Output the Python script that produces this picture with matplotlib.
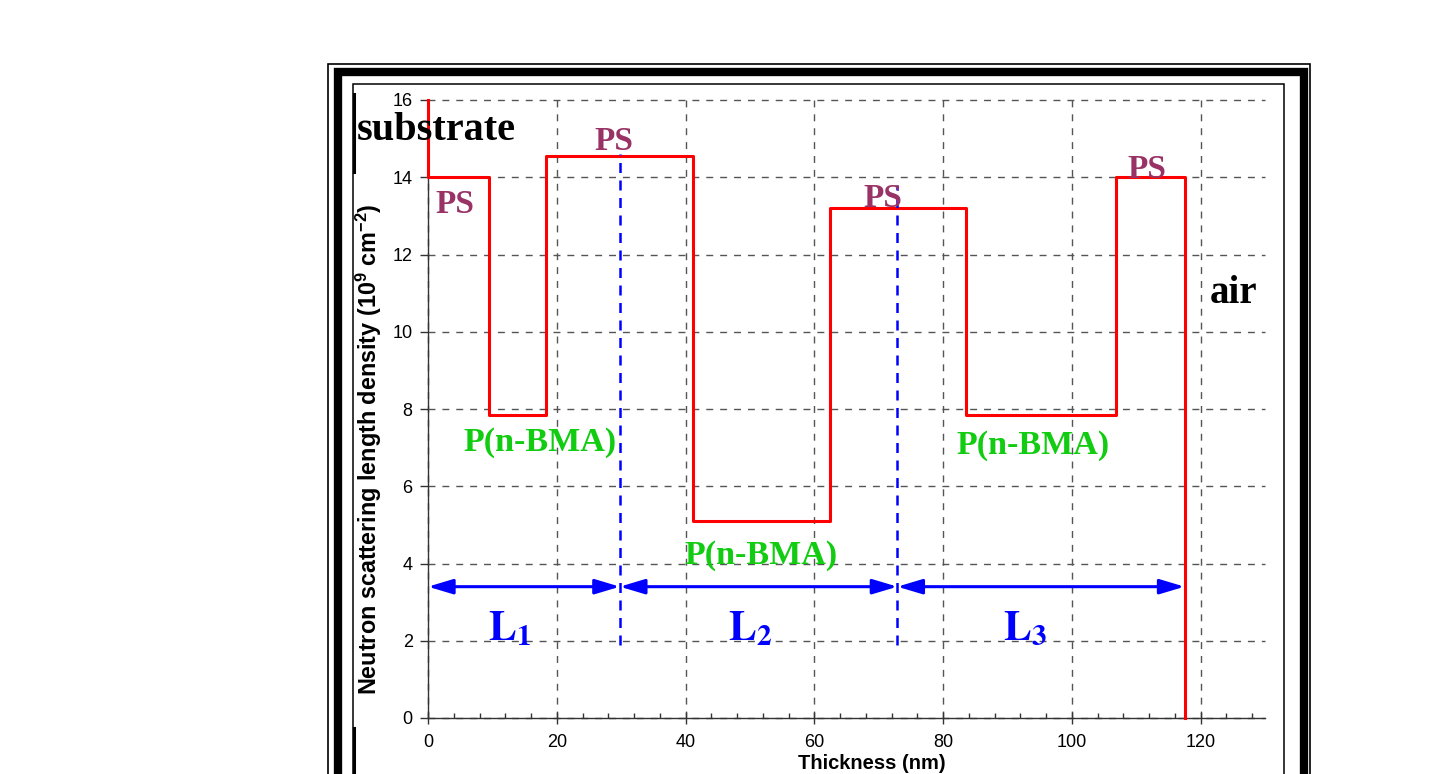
import matplotlib.pyplot as plt
import numpy as np
from matplotlib.patches import Rectangle
from matplotlib.lines import Line2D
from matplotlib.ticker import MultipleLocator

# SLD profile: layer boundaries (nm) and the SLD of each layer (1e9 cm^-2)
layer_edges = [0, 9.5, 18.3, 41.2, 62.5, 83.6, 106.8, 117.5]
layer_sld = [14.0, 7.85, 14.55, 5.1, 13.2, 7.85, 14.0]
substrate_sld = 16.0
air_sld = 0.0

# period markers
period_edges = [0, 29.8, 72.9, 117.5]
period_names = ["1", "2", "3"]
arrow_y = 3.4
divider_top = [14.6, 13.8]
divider_bottom = 1.9

# annotations (x, baseline y)
ps_pos = [(4.2, 13.08), (28.9, 14.7), (70.7, 13.24), (111.7, 13.98)]
bma_pos = [(17.4, 6.92), (51.7, 3.99), (93.9, 6.84)]
L_pos = [(12.7, 2.02), (50.0, 2.02), (92.8, 2.02)]

W, H = 1432, 774
plt.rcParams["font.family"] = ["Liberation Sans", "DejaVu Sans"]
plt.rcParams["mathtext.fontset"] = "custom"
plt.rcParams["mathtext.rm"] = "Liberation Sans"
plt.rcParams["mathtext.bf"] = "Liberation Sans:bold"

fig = plt.figure(figsize=(W / 100, H / 100), dpi=100)
ax = fig.add_axes([428 / W, 1 - 718 / H, (1265 - 428) / W, (718 - 100) / H])

# frame around the figure (thin / thick / thin)
def px_rect(left, right, top, lw):
    r = Rectangle((left / W, -0.2), (right - left) / W, 1.2 - top / H,
                  transform=fig.transFigure, fill=False, ec="black", lw=lw)
    fig.add_artist(r)

px_rect(328, 1310, 64, 1.2)
px_rect(338, 1303.5, 72, 6.0)
px_rect(352.5, 1284, 84, 1.1)
for y0, y1 in [(94, 172), (728, 790)]:
    fig.add_artist(Line2D([353.5 / W, 353.5 / W], [1 - y0 / H, 1 - y1 / H],
                          transform=fig.transFigure, color="black", lw=2.2))

ax.set_xlim(0, 130)
ax.set_ylim(0, 16)
ax.set_xticks(np.arange(0, 121, 20))
ax.set_yticks(np.arange(0, 17, 2))
ax.xaxis.set_minor_locator(MultipleLocator(4))
ax.grid(True, color="#555555", lw=1.0, linestyle=(0, (5, 5)))
ax.set_axisbelow(True)
for g in ax.get_xgridlines() + ax.get_ygridlines():
    g.set_clip_on(False)
for s in ["top", "right"]:
    ax.spines[s].set_visible(False)
for s in ["left", "bottom"]:
    ax.spines[s].set_color("#333333")
    ax.spines[s].set_linewidth(1.0)
ax.tick_params(axis="y", which="major", direction="out", length=6, width=1,
               color="#333333", labelsize=13, pad=5)
ax.tick_params(axis="x", which="major", direction="inout", length=9, width=1,
               color="#333333", labelsize=13, pad=7)
ax.tick_params(axis="x", which="minor", direction="in", length=3.5, width=1,
               color="#333333")

# SLD step profile
xs = np.repeat(layer_edges, 2)
ys = np.concatenate([[substrate_sld], np.repeat(layer_sld, 2), [air_sld]])
ax.plot(xs, ys, color="#ff0000", lw=2.2, clip_on=False, zorder=4)

# period dividers and arrows
for xd, top in zip(period_edges[1:-1], divider_top):
    ax.plot([xd, xd], [divider_bottom, top], color="#0000ff", lw=1.8,
            linestyle=(0, (4, 3)), zorder=5)
for i in range(len(period_edges) - 1):
    ax.annotate("", xy=(period_edges[i + 1], arrow_y), xytext=(period_edges[i], arrow_y),
                arrowprops=dict(arrowstyle="<|-|>,head_length=1.5,head_width=0.45",
                                color="#0000ff", lw=2.2, mutation_scale=10,
                                shrinkA=0, shrinkB=0), zorder=6)
for (x, y), n in zip(L_pos, period_names):
    ax.text(x, y, r"$\mathbf{L}_{\mathbf{%s}}$" % n, color="#0000ff", fontsize=30,
            ha="center", va="baseline", math_fontfamily="stix")

serif = ["Liberation Serif", "DejaVu Serif"]
for x, y in ps_pos:
    ax.text(x, y, "PS", color="#993366", fontsize=24, fontweight="bold",
            family=serif, ha="center", va="baseline", zorder=7)
for x, y in bma_pos:
    ax.text(x, y, "P(n-BMA)", color="#11cc11", fontsize=24.5, fontweight="bold",
            family=serif, ha="center", va="baseline", zorder=7)
ax.text(-11.0, 14.97, "substrate", color="black", fontsize=29, fontweight="bold",
        family=serif, ha="left", va="baseline", clip_on=False, zorder=7)
ax.text(125.1, 10.75, "air", color="black", fontsize=28, fontweight="bold",
        family=serif, ha="center", va="baseline", clip_on=False)

fig.text(369 / W, 1 - 449 / H,
         r"Neutron scattering length density (10$^{\mathbf{9}}$ cm$^{\mathbf{-2}}$)",
         rotation=90, ha="center", va="center", fontsize=16.8, fontweight="bold")
fig.text(872 / W, 1 / H, "Thickness (nm)", ha="center", va="bottom",
         fontsize=14.5, fontweight="bold")

fig.savefig("out.png", dpi=100)
